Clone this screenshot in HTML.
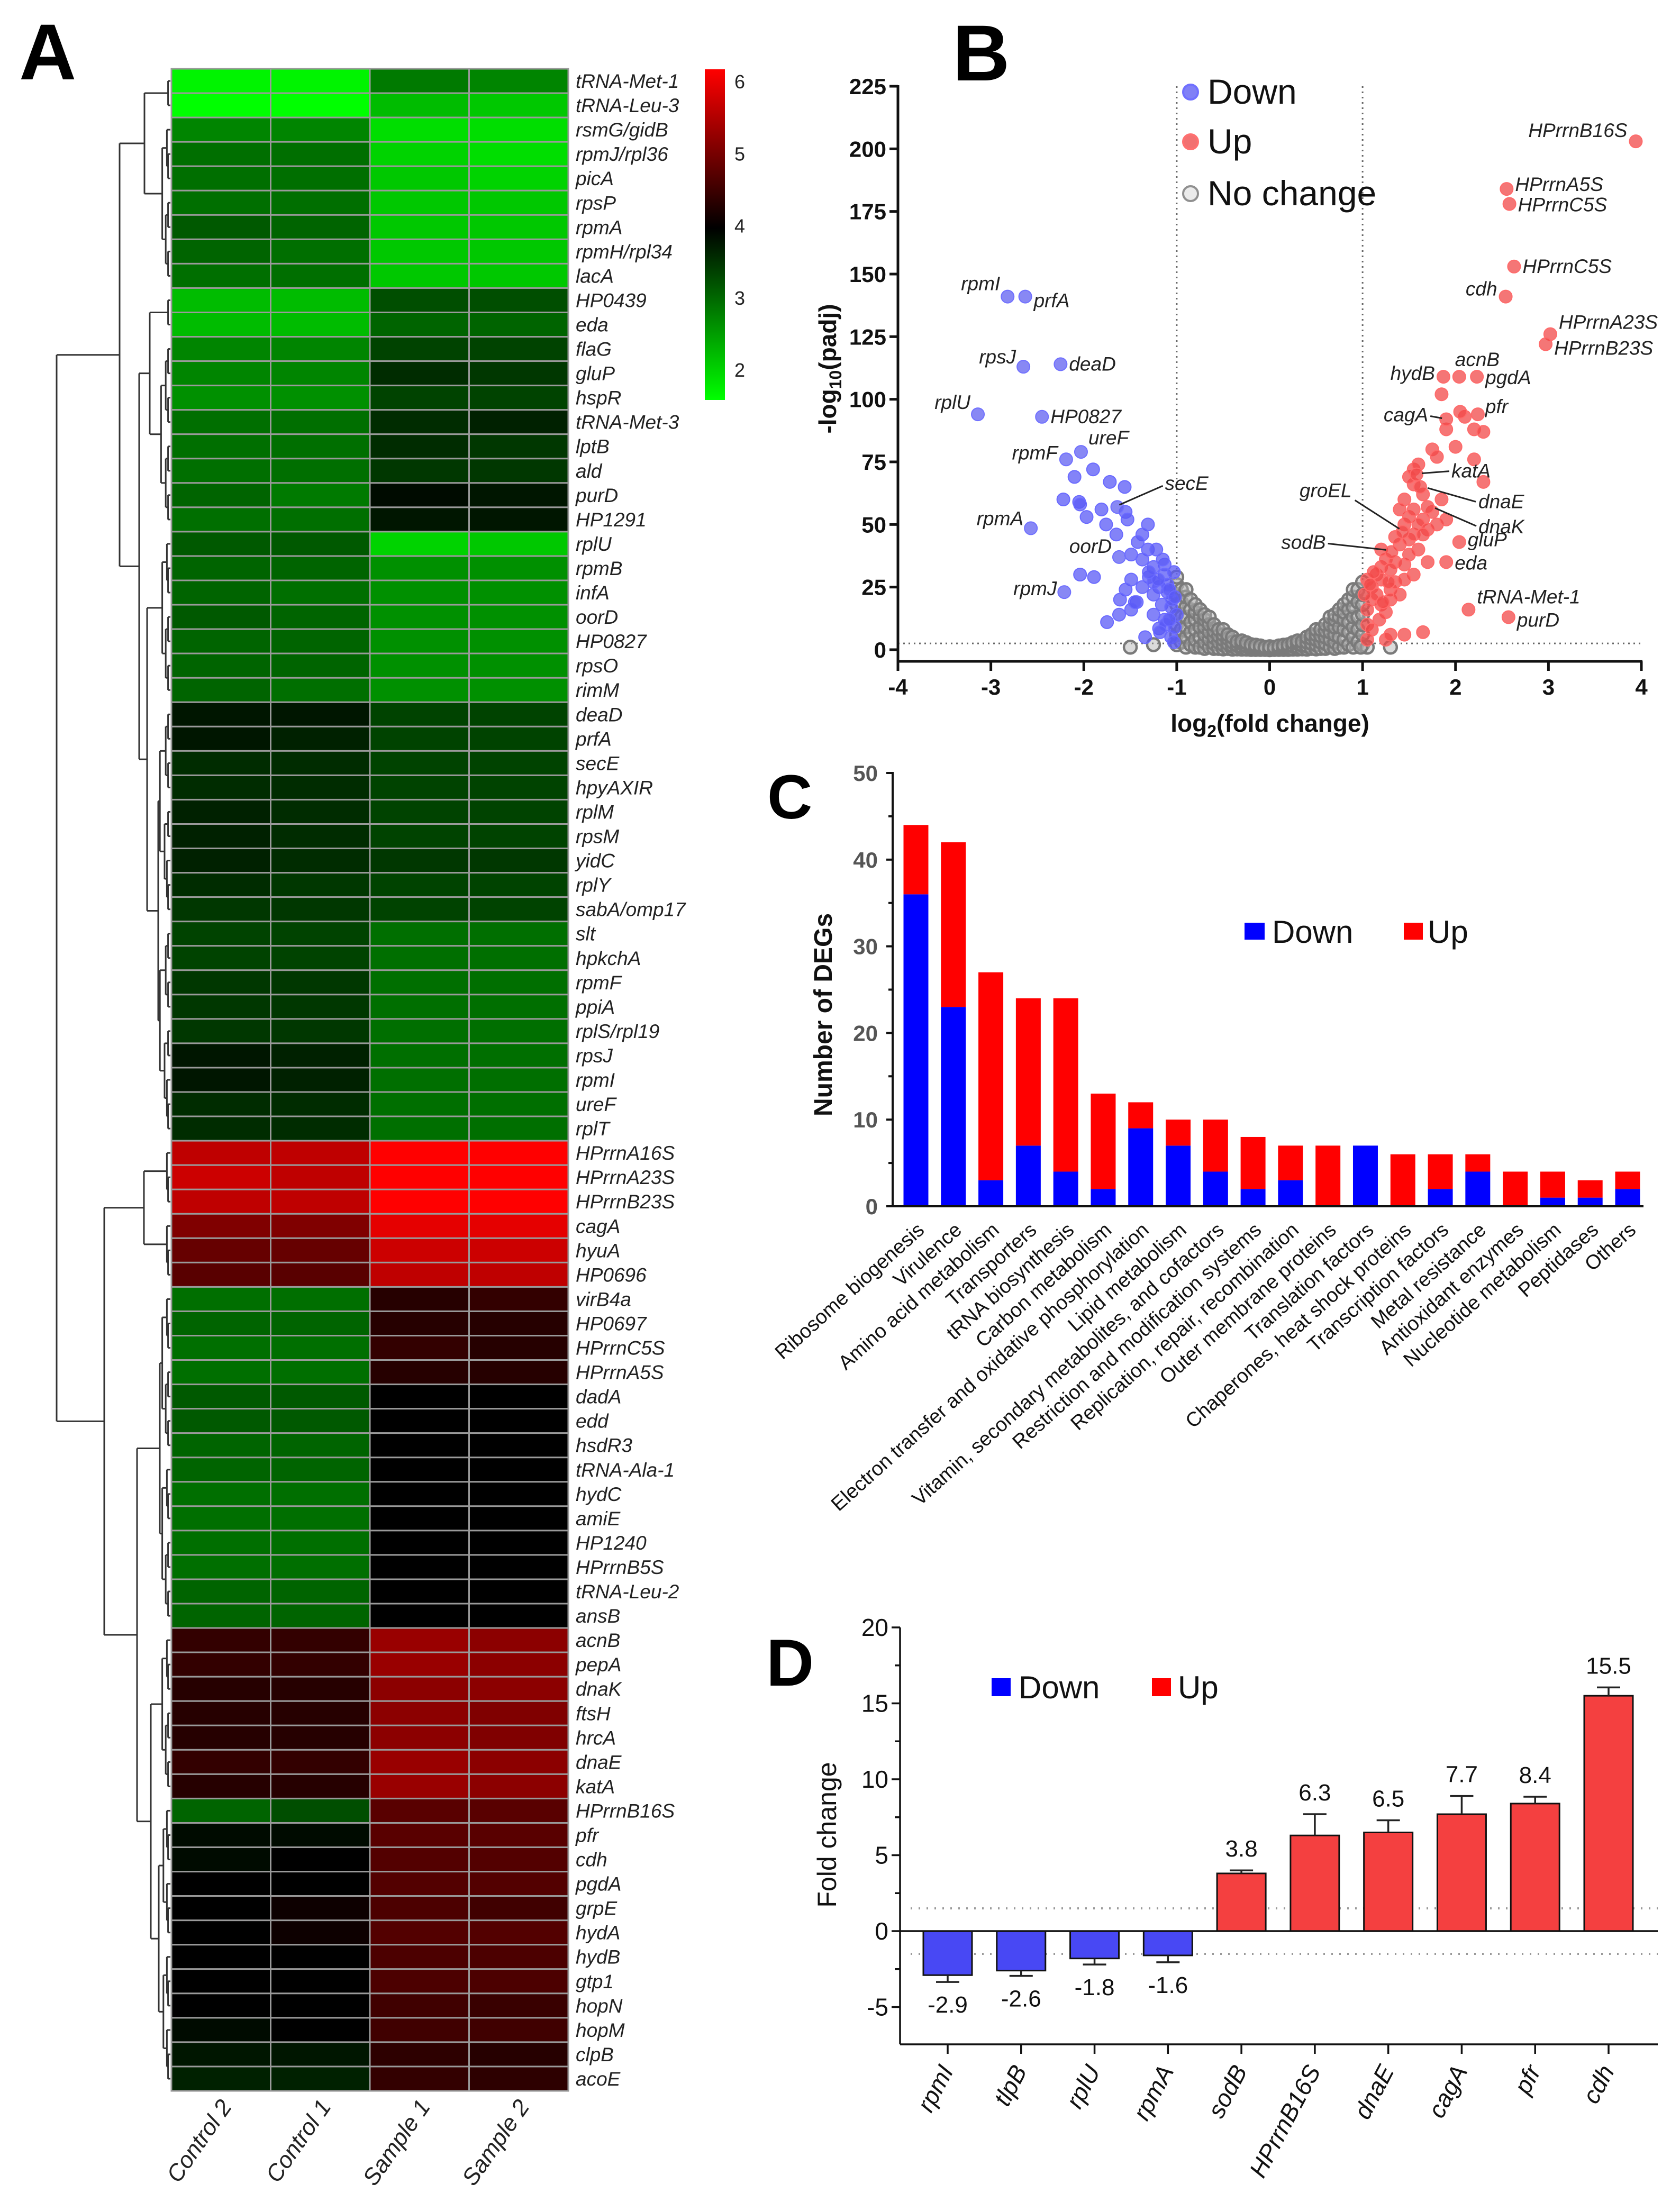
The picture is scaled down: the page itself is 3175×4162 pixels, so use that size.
<!DOCTYPE html>
<html><head><meta charset="utf-8"><title>DEG figure</title>
<style>
html,body{margin:0;padding:0;background:#fff;}
svg{display:block;font-family:"Liberation Sans",Arial,sans-serif;}
</style></head>
<body>
<svg id="fig" width="3175" height="4162" viewBox="0 0 3175 4162" xmlns="http://www.w3.org/2000/svg">
<defs>
<linearGradient id="cbar" x1="0" y1="0" x2="0" y2="1">
<stop offset="0" stop-color="#ff0000"/>
<stop offset="0.48" stop-color="#000000"/>
<stop offset="1" stop-color="#00ff00"/>
</linearGradient>
</defs>
<g id="panelA"></g>
<g id="panelB"></g>
<g id="panelC"></g>
<g id="panelD"></g>
</svg>
<script>
const NS='http://www.w3.org/2000/svg';
function mk(tag,attrs,parent,txt){const e=document.createElementNS(NS,tag);for(const k in attrs)e.setAttribute(k,attrs[k]);if(txt!==undefined)e.textContent=txt;parent.appendChild(e);return e;}

/* ===== Panel A data ===== */
const heatGenes=["tRNA-Met-1","tRNA-Leu-3","rsmG/gidB","rpmJ/rpl36","picA","rpsP","rpmA","rpmH/rpl34","lacA","HP0439","eda","flaG","gluP","hspR","tRNA-Met-3","lptB","ald","purD","HP1291","rplU","rpmB","infA","oorD","HP0827","rpsO","rimM","deaD","prfA","secE","hpyAXIR","rplM","rpsM","yidC","rplY","sabA/omp17","slt","hpkchA","rpmF","ppiA","rplS/rpl19","rpsJ","rpmI","ureF","rplT","HPrrnA16S","HPrrnA23S","HPrrnB23S","cagA","hyuA","HP0696","virB4a","HP0697","HPrrnC5S","HPrrnA5S","dadA","edd","hsdR3","tRNA-Ala-1","hydC","amiE","HP1240","HPrrnB5S","tRNA-Leu-2","ansB","acnB","pepA","dnaK","ftsH","hrcA","dnaE","katA","HPrrnB16S","pfr","cdh","pgdA","grpE","hydA","hydB","gtp1","hopN","hopM","clpB","acoE"];
const heatSamples=["Control 2","Control 1","Sample 1","Sample 2"];
const heatControl2=[1.8,1.7,2.8,3.0,3.0,3.0,3.2,3.1,3.0,2.3,2.3,2.8,2.8,2.7,3.0,3.0,3.0,3.1,3.0,3.2,3.1,3.1,3.2,3.1,3.1,3.1,3.8,3.8,3.6,3.6,3.7,3.7,3.7,3.6,3.5,3.4,3.4,3.5,3.5,3.5,3.8,3.8,3.6,3.6,5.5,5.6,5.5,5.0,4.8,4.7,3.0,3.1,3.0,3.0,3.2,3.2,3.1,3.1,3.0,3.0,3.0,3.0,3.1,3.1,4.4,4.4,4.3,4.3,4.3,4.4,4.3,3.1,3.9,3.9,4.0,4.0,4.0,4.0,4.0,4.0,3.9,3.8,3.7];
const heatControl1=[1.8,1.6,2.8,3.0,3.0,3.0,3.1,3.0,3.0,2.3,2.3,2.8,2.8,2.7,3.0,3.0,3.0,2.9,3.0,3.2,3.1,3.0,3.1,3.1,3.1,3.0,3.8,3.7,3.6,3.6,3.6,3.6,3.6,3.5,3.5,3.4,3.4,3.5,3.5,3.5,3.7,3.7,3.6,3.6,5.5,5.5,5.5,5.0,4.8,4.7,3.0,3.1,3.0,3.0,3.2,3.2,3.1,3.1,3.0,3.0,3.0,3.0,3.1,3.1,4.4,4.4,4.3,4.3,4.3,4.4,4.3,3.3,3.9,4.0,4.0,4.1,4.1,4.0,4.0,4.0,4.0,3.8,3.7];
const heatSample1=[2.9,2.3,2.0,2.1,2.2,2.2,2.2,2.2,2.2,3.3,3.1,3.4,3.6,3.4,3.6,3.6,3.5,3.9,3.8,2.1,2.7,2.7,2.7,2.7,2.7,2.7,3.4,3.4,3.4,3.4,3.4,3.4,3.5,3.4,3.4,3.0,3.0,3.0,3.0,3.0,3.0,3.0,3.0,3.0,6.2,6.1,6.1,5.8,5.6,5.5,4.3,4.3,4.4,4.3,4.0,4.0,4.0,4.0,4.0,4.0,4.0,4.0,4.0,4.0,5.2,5.2,5.1,5.1,5.1,5.2,5.2,4.7,4.7,4.65,4.65,4.6,4.65,4.6,4.6,4.5,4.5,4.35,4.4];
const heatSample2=[2.8,2.2,2.0,2.0,2.1,2.2,2.2,2.2,2.2,3.3,3.1,3.4,3.5,3.4,3.7,3.5,3.5,3.8,3.8,2.2,2.7,2.7,2.7,2.7,2.7,2.7,3.4,3.4,3.4,3.4,3.4,3.4,3.5,3.4,3.4,3.0,3.0,3.0,3.0,3.0,3.0,3.0,3.0,3.0,6.2,6.1,6.1,5.8,5.6,5.5,4.4,4.3,4.3,4.3,4.0,4.0,4.0,4.0,4.0,4.0,4.0,4.0,4.0,4.0,5.1,5.1,5.1,5.0,5.0,5.1,5.1,4.7,4.7,4.65,4.65,4.5,4.65,4.6,4.6,4.45,4.5,4.3,4.35];
const colorbarTicks=[6,5,4,3,2];

/* ===== Panel B data ===== */
const volcXTicks=[-4,-3,-2,-1,0,1,2,3,4];
const volcYTicks=[0,25,50,75,100,125,150,175,200,225];
const downLabels=["rpmI","prfA","rpsJ","deaD","rplU","HP0827","rpmF","ureF","secE","rpmA","oorD","rpmJ"];
const downLabX=[-2.82,-2.63,-2.65,-2.25,-3.14,-2.45,-2.19,-2.03,-1.64,-2.57,-1.62,-2.21];
const downLabY=[141,141,113,114,94,93,76,79,57,48.5,37,23];
const upLabels=["HPrrnB16S","HPrrnA5S","HPrrnC5S","HPrrnC5S","cdh","HPrrnA23S","HPrrnB23S","acnB","hydB","pgdA","cagA","pfr","katA","dnaE","dnaK","groEL","sodB","gluP","eda","tRNA-Met-1","purD"];
const upLabX=[3.94,2.55,2.58,2.63,2.54,3.02,2.97,2.04,1.87,2.23,1.9,2.24,1.58,1.62,1.7,1.43,1.31,2.04,1.9,2.14,2.57];
const upLabY=[203,184,178,153,141,126,122,109,109,109,92,94,70,65,57,47,39,43,35,16,13];
const downX=[-1.9,-2.1,-1.72,-1.56,-2.22,-2.05,-2.04,-1.81,-1.55,-1.97,-1.76,-1.53,-1.31,-1.65,-1.37,-1.42,-1.31,-1.22,-1.49,-1.37,-1.13,-1.25,-2.04,-1.89,-1.30,-1.49,-1.13,-1.03,-1.19,-1.37,-1.55,-1.1,-1.25,-1.61,-1.43,-1.16,-1.06,-1.62,-1.25,-1.13,-1.75,-1.19,-1.34,-1.06,-1.03,-1.25,-1.1,-1.49,-1.0,-1.05,-1.15,-1.2,-1.08,-1.02,-1.12,-1.18,-1.3,-1.45,-1.02,-1.08];
const downY=[72,69,67,65,60,59,58,56,55,53,50,52,50,46,46,43,40,40,38,36,34,33,30,29,29,28,30,31,25,25,24,23,22,20,19,18,17,14,14,12,11,8.5,5,5,3,27,26,16,14,20,36,28,24,21,10,7,31,19,9,12];
const upX=[1.05,1.1,1.15,1.2,1.25,1.1,1.15,1.2,1.3,1.35,1.25,1.05,1.1,1.05,1.25,1.3,1.45,1.65,1.4,1.5,1.55,1.45,1.5,1.45,1.55,1.65,1.6,1.7,1.8,1.9,1.75,1.65,1.55,1.5,1.55,1.6,1.85,1.75,1.8,2.0,2.2,2.3,2.2,2.3,1.9,2.1,2.05,1.85,1.35,1.6,1.7,1.55,1.45,1.3,1.65,1.4,1.2,1.45,1.35,1.05,1.2,1.3,1.4,1.5,1.02,1.08,1.12,1.18,1.22,1.28];
const upY=[28,25,30,33,36,20,22,18,24,27,15,10,8,4,4,6,6,7,42,44,46,50,53,60,56,52,50,48,50,52,55,62,66,69,72,74,60,80,77,81,76,67,88,87,88,93,95,102,35,40,35,30,28,20,46,56,40,34,45,16,28,32,22,38,22,26,31,12,19,27];
const ncX=[-1.0,-1.0,-1.0,-1.0,-1.0,-1.0,-1.0,-1.0,-0.95,-0.95,-0.95,-0.95,-0.95,-0.9,-0.9,-0.9,-0.9,-0.9,-0.9,-0.9,-0.85,-0.85,-0.85,-0.85,-0.85,-0.8,-0.8,-0.8,-0.8,-0.8,-0.8,-0.75,-0.75,-0.75,-0.75,-0.75,-0.7,-0.7,-0.7,-0.7,-0.7,-0.7,-0.65,-0.65,-0.65,-0.65,-0.65,-0.6,-0.6,-0.6,-0.6,-0.6,-0.55,-0.55,-0.55,-0.55,-0.5,-0.5,-0.5,-0.5,-0.5,-0.45,-0.45,-0.45,-0.45,-0.4,-0.4,-0.4,-0.4,-0.35,-0.35,-0.35,-0.3,-0.3,-0.3,-0.3,-0.25,-0.25,-0.25,-0.2,-0.2,-0.2,-0.15,-0.15,-0.15,-0.1,-0.1,-0.1,-0.05,-0.05,0,0,0,0.05,0.05,0.1,0.1,0.1,0.15,0.15,0.15,0.2,0.2,0.2,0.25,0.25,0.25,0.3,0.3,0.3,0.3,0.35,0.35,0.35,0.4,0.4,0.4,0.4,0.45,0.45,0.45,0.45,0.5,0.5,0.5,0.5,0.5,0.55,0.55,0.55,0.55,0.6,0.6,0.6,0.6,0.6,0.65,0.65,0.65,0.65,0.65,0.7,0.7,0.7,0.7,0.7,0.7,0.75,0.75,0.75,0.75,0.75,0.8,0.8,0.8,0.8,0.8,0.8,0.85,0.85,0.85,0.85,0.85,0.9,0.9,0.9,0.9,0.9,0.9,0.9,0.95,0.95,0.95,0.95,0.95,1.0,1.0,1.0,1.0,1.0,1.0,1.0,-1.5,-1.25,1.3,1.05,0.98];
const ncY=[2,6,10,14,18,22,26,29,3,8,13,19,24,1,5,9,13,17,21,24,2,7,11,16,20,1,4,8,12,15,18,1,5,9,13,16,0.5,3,6,9,12,14,1,4,7,10,13,0.5,2.5,5,7.5,10,0.5,3,5.5,8,0.3,2,4,6,8,0.5,2.5,4.5,6,0.2,1.5,3,5,0.3,1.8,3.2,0.2,1.2,2.5,3.5,0.2,1.5,2.8,0.1,1,2,0.1,1,1.8,0.1,0.8,1.5,0.1,1,0,0.6,1.2,0.1,1,0.1,0.8,1.5,0.1,1,1.8,0.1,1,2,0.2,1.5,2.8,0.2,1.2,2.5,3.5,0.3,1.8,3.2,0.2,1.5,3,5,0.5,2.5,4.5,6,0.3,2,4,6,8,0.5,3,5.5,8,0.5,2.5,5,7.5,10,1,4,7,10,13,0.5,3,6,9,12,14,1,5,9,13,16,1,4,8,12,15,18,2,7,11,16,20,1,5,9,13,17,21,24,3,8,13,19,24,2,6,10,14,18,22,27,1,2,1,1,1];

/* ===== Panel C data ===== */
const catNames=["Ribosome biogenesis","Virulence","Amino acid metabolism","Transporters","tRNA biosynthesis","Carbon metabolism","Electron transfer and oxidative phosphorylation","Lipid metabolism","Vitamin, secondary metabolites, and cofactors","Restriction and modification systems","Replication, repair, recombination","Outer membrane proteins","Translation factors","Chaperones, heat shock proteins","Transcription factors","Metal resistance","Antioxidant enzymes","Nucleotide metabolism","Peptidases","Others"];
const catDown=[36,23,3,7,4,2,9,7,4,2,3,0,7,0,2,4,0,1,1,2];
const catUp=[8,19,24,17,20,11,3,3,6,6,4,7,0,6,4,2,4,3,2,2];
const catYTicks=[0,10,20,30,40,50];

/* ===== Panel D data ===== */
const fcGenes=["rpmI","tlpB","rplU","rpmA","sodB","HPrrnB16S","dnaE","cagA","pfr","cdh"];
const fcValues=[-2.9,-2.6,-1.8,-1.6,3.8,6.3,6.5,7.7,8.4,15.5];
const fcErrors=[0.45,0.35,0.4,0.45,0.2,1.4,0.8,1.2,0.45,0.55];
const fcLabels=["-2.9","-2.6","-1.8","-1.6","3.8","6.3","6.5","7.7","8.4","15.5"];
const fcYTicks=[-5,0,5,10,15,20];

/* ================= PANEL A ================= */
(function(){
const g=document.getElementById('panelA');
const L=324,R=1074,T=130,B=3952;
const rows=heatGenes.length, rh=(B-T)/rows, cw=(R-L)/4;
const cols=[heatControl2,heatControl1,heatSample1,heatSample2];
function col(v){let r=0,gg=0;if(v>=4){r=Math.min(255,Math.round((v-4)/2*255));}else{gg=Math.min(255,Math.round((4-v)/2.3*255));}return 'rgb('+r+','+gg+',0)';}
const lab=mk('text',{x:36,y:150,'font-size':150,'font-weight':'bold'},g,'A');

for(let c=0;c<4;c++){for(let i=0;i<rows;i++){
 const r=mk('rect',{x:L+c*cw,y:T+i*rh,width:cw,height:rh,fill:col(cols[c][i]),stroke:'#9a9a9a','stroke-width':3},g);
 
}}
for(let i=0;i<rows;i++){
 const t=mk('text',{x:R+14,y:T+i*rh+rh/2+13,'font-size':37,'font-style':'italic',fill:'#222'},g,heatGenes[i]);
 
}
for(let c=0;c<4;c++){
 const cx=L+c*cw+cw/2+22, cy=B+30;
 const t=mk('text',{x:cx,y:cy,'font-size':44,'font-style':'italic','text-anchor':'end',fill:'#222',transform:'rotate(-55 '+cx+' '+cy+')'},g,heatSamples[c]);
 
}
const cbTop=131,cbBot=756; const vy=v=>155+(6-v)*136.3;
const cb=mk('rect',{x:1332,y:cbTop,width:38,height:cbBot-cbTop,fill:'url(#cbar)'},g);

colorbarTicks.forEach(v=>{const t=mk('text',{x:1388,y:vy(v)+12,'font-size':36,fill:'#222'},g,String(v));
 });
const leafX=322;
function rng(lo,hi){ if(hi-lo===1) return {x:leafX,y:T+lo*rh+rh/2};
 const m=Math.floor((lo+hi)/2); return node(Math.max(300,leafX-2.2*(hi-lo)),[rng(lo,m),rng(m,hi)]); }
const dg=mk('g',{stroke:'#333','stroke-width':3,fill:'none'},g);

function node(h,ch){ ch.forEach(c=>mk('line',{x1:c.x,y1:c.y,x2:h,y2:c.y},dg));
 mk('line',{x1:h,y1:ch[0].y,x2:h,y2:ch[ch.length-1].y},dg);
 return {x:h,y:(ch[0].y+ch[ch.length-1].y)/2}; }
const top=node(226,[ node(273,[rng(0,2),rng(2,9)]), node(263,[ node(283,[rng(9,11),rng(11,19)]), node(278,[rng(19,26),node(299,[rng(26,35),rng(35,44)])]) ]) ]);
const bot=node(197,[ node(272,[rng(44,47),rng(47,50)]), node(259,[ node(302,[rng(50,57),rng(57,64)]), node(285,[rng(64,71),rng(71,83)]) ]) ]);
node(107,[top,bot]);
})();

/* ================= PANEL B ================= */
(function(){
const g=document.getElementById('panelB');
const X0=1697,X1=3102,Y0=1228,Ytop=163;
const xs=v=>X0+(v+4)*(X1-X0)/8, ys=v=>Y0-v*(Y0-Ytop)/225;
const lab=mk('text',{x:1800,y:152,'font-size':150,'font-weight':'bold'},g,'B');

const ref=mk('g',{stroke:'#666','stroke-width':3,'stroke-dasharray':'3 7'},g);

mk('line',{x1:xs(-1),y1:Ytop,x2:xs(-1),y2:Y0},ref);mk('line',{x1:xs(1),y1:Ytop,x2:xs(1),y2:Y0},ref);
mk('line',{x1:X0,y1:ys(2.5),x2:X1,y2:ys(2.5)},ref);
const pg=mk('g',{},g);
for(let i=0;i<ncX.length;i++){const c=mk('circle',{cx:xs(ncX[i]),cy:ys(ncY[i]),r:12,fill:'#b0b0b0','fill-opacity':0.45,stroke:'#7a7a7a','stroke-width':4.5},pg);
 }
for(let i=0;i<downX.length;i++){const c=mk('circle',{cx:xs(downX[i]),cy:ys(downY[i]),r:12,fill:'#5a5af5','fill-opacity':0.75,stroke:'#6a6aff','stroke-width':2},pg);
 }
for(let i=0;i<upX.length;i++){const c=mk('circle',{cx:xs(upX[i]),cy:ys(upY[i]),r:12,fill:'#f24848','fill-opacity':0.75,stroke:'#ff6a6a','stroke-width':2},pg);
 }
const dOffFix=[[-14,-12,'end'],[16,20,'start'],[-14,-6,'end'],[16,12,'start'],[-14,-10,'end'],[16,12,'start'],[-16,0,'end'],[14,-14,'start'],[90,-32,'start'],[-14,-6,'end'],[-14,-8,'end'],[-14,6,'end']];
for(let i=0;i<downLabels.length;i++){const c=mk('circle',{cx:xs(downLabX[i]),cy:ys(downLabY[i]),r:12,fill:'#6060f0','fill-opacity':0.75,stroke:'#7070ff','stroke-width':2},pg);
 
 const o=dOffFix[i];const t=mk('text',{x:xs(downLabX[i])+o[0],y:ys(downLabY[i])+o[1],'font-size':37,'font-style':'italic','text-anchor':o[2],fill:'#222'},g,downLabels[i]);
 
 if(downLabels[i]==='secE'){mk('line',{x1:xs(downLabX[i])+4,y1:ys(downLabY[i])-4,x2:xs(downLabX[i])+86,y2:ys(downLabY[i])-40,stroke:'#222','stroke-width':3},g);}
}
const uOff=[[-16,-8,'end'],[16,4,'start'],[16,14,'start'],[16,12,'start'],[-16,-2,'end'],[16,-10,'start'],[16,20,'start'],[-10,-18,'start'],[-16,6,'end'],[16,14,'start'],[-90,-4,'end'],[14,-2,'start'],[0,0,'start'],[0,0,'start'],[0,0,'start'],[0,0,'start'],[0,0,'start'],[16,8,'start'],[16,14,'start'],[16,-12,'start'],[16,18,'start']];
const leader={katA:[[10,-2],[62,-6]],dnaE:[[14,2],[105,28]],dnaK:[[14,2],[92,36]],groEL:[[-6,-6],[-90,-60]],sodB:[[-10,-4],[-120,-16]],cagA:[[-8,-2],[-30,-6]]};
const leaderText={katA:[66,6,'start'],dnaE:[110,40,'start'],dnaK:[96,50,'start'],groEL:[-96,-66,'end'],sodB:[-124,-6,'end'],cagA:[-34,4,'end']};
for(let i=0;i<upLabels.length;i++){const cx=xs(upLabX[i]),cy=ys(upLabY[i]);
 const c=mk('circle',{cx:cx,cy:cy,r:12,fill:'#f04848','fill-opacity':0.75,stroke:'#ff6a6a','stroke-width':2},pg);
 
 const nm=upLabels[i];let o=uOff[i];
 if(leader[nm]){const l=leader[nm];mk('line',{x1:cx+l[0][0],y1:cy+l[0][1],x2:cx+l[1][0],y2:cy+l[1][1],stroke:'#222','stroke-width':3},g);o=leaderText[nm];}
 if(nm==='acnB'){o=[-8,-20,'start'];}
 const t=mk('text',{x:cx+o[0],y:cy+o[1],'font-size':37,'font-style':'italic','text-anchor':o[2],fill:'#222'},g,nm);
 
}
const ax=mk('g',{stroke:'#111','stroke-width':5,fill:'none'},g);
mk('line',{x1:X0,y1:Ytop-2,x2:X0,y2:Y0+22},ax);mk('line',{x1:X0-2,y1:Y0+22,x2:X1+2,y2:Y0+22},ax);
volcYTicks.forEach(v=>{mk('line',{x1:X0-16,y1:ys(v),x2:X0,y2:ys(v)},ax);
 const t=mk('text',{x:X0-22,y:ys(v)+15,'font-size':42,'font-weight':'bold','text-anchor':'end',fill:'#111',stroke:'none'},g,String(v));
 });
volcXTicks.forEach(v=>{mk('line',{x1:xs(v),y1:Y0+22,x2:xs(v),y2:Y0+40},ax);
 const t=mk('text',{x:xs(v),y:Y0+85,'font-size':42,'font-weight':'bold','text-anchor':'middle',fill:'#111'},g,String(v));
 });
const yt=mk('text',{x:0,y:0,'font-size':46,'font-weight':'bold','text-anchor':'middle',fill:'#111',transform:'translate(1580 697) rotate(-90)'},g);

yt.innerHTML='-log<tspan font-size="32" dy="10">10</tspan><tspan dy="-10">(padj)</tspan>';
const xt=mk('text',{x:2400,y:1383,'font-size':46,'font-weight':'bold','text-anchor':'middle',fill:'#111'},g);

xt.innerHTML='log<tspan font-size="32" dy="10">2</tspan><tspan dy="-10">(fold change)</tspan>';
const lg=mk('g',{},g);
[['Down','#6a6af5','#7070ff',174],['Up','#f05858','#ff7070',268],['No change','#e8e8e8','#909090',366]].forEach(e=>{
 const c=mk('circle',{cx:2250,cy:e[3],r:14,fill:e[1],'fill-opacity':0.85,stroke:e[2],'stroke-width':4},lg);
 
 const t=mk('text',{x:2282,y:e[3]+22,'font-size':66,fill:'#111'},lg,e[0]);
 });
})();

/* ================= PANEL C ================= */
(function(){
const g=document.getElementById('panelC');
const X0=1687,X1=3106,Y0=2280,Ytop=1461;
const ys=v=>Y0-v*(Y0-Ytop)/50; const step=(3076-1731)/19; const xc=i=>1731+i*step; const bw=47;
const lab=mk('text',{x:1450,y:1547,'font-size':118,'font-weight':'bold'},g,'C');

for(let i=0;i<catNames.length;i++){
 if(catDown[i]>0){const r=mk('rect',{x:xc(i)-bw/2,y:ys(catDown[i]),width:bw,height:Y0-ys(catDown[i]),fill:'#0000ff'},g);
  }
 if(catUp[i]>0){const r=mk('rect',{x:xc(i)-bw/2,y:ys(catDown[i]+catUp[i]),width:bw,height:ys(catDown[i])-ys(catDown[i]+catUp[i]),fill:'#ff0000'},g);
  }
 const tx=xc(i)+18, ty=Y0+48;
 const t=mk('text',{x:tx,y:ty,'font-size':38,'text-anchor':'end',fill:'#111',transform:'rotate(-42 '+tx+' '+ty+')'},g,catNames[i]);
 
}
const ax=mk('g',{stroke:'#111','stroke-width':4},g);
mk('line',{x1:X0,y1:Ytop-2,x2:X0,y2:Y0},ax);mk('line',{x1:X0-2,y1:Y0,x2:X1,y2:Y0},ax);
for(let v=0;v<=50;v+=5){mk('line',{x1:X0-(v%10===0?12:8),y1:ys(v),x2:X0,y2:ys(v)},ax);}
catYTicks.forEach(v=>{const t=mk('text',{x:X0-28,y:ys(v)+15,'font-size':42,'font-weight':'bold','text-anchor':'end',fill:'#555'},g,String(v));
 });
const yt=mk('text',{x:0,y:0,'font-size':48,'font-weight':'bold','text-anchor':'middle',fill:'#111',transform:'translate(1572 1918) rotate(-90)'},g,'Number of DEGs');

const lg=mk('g',{},g);
mk('rect',{x:2352,y:1744,width:38,height:32,fill:'#0000ff'},lg);
mk('text',{x:2404,y:1782,'font-size':60,fill:'#111'},lg,'Down');
mk('rect',{x:2653,y:1744,width:36,height:32,fill:'#ff0000'},lg);
mk('text',{x:2698,y:1782,'font-size':60,fill:'#111'},lg,'Up');
})();

/* ================= PANEL D ================= */
(function(){
const g=document.getElementById('panelD');
const X0=1701,X1=3133,Y0=3650,unit=28.7,Ybot=3864,Ytop=3076;
const ys=v=>Y0-v*unit; const step=(3040-1791)/9; const xc=i=>1791+i*step; const bw=92;
const lab=mk('text',{x:1448,y:3186,'font-size':125,'font-weight':'bold'},g,'D');

const ref=mk('g',{stroke:'#999','stroke-width':4,'stroke-dasharray':'3 12'},g);

mk('line',{x1:X0+20,y1:ys(1.5),x2:X1,y2:ys(1.5)},ref);mk('line',{x1:X0+20,y1:ys(-1.5),x2:X1,y2:ys(-1.5)},ref);
for(let i=0;i<fcGenes.length;i++){
 const v=fcValues[i], e=fcErrors[i], up=v>0;
 const y1=Math.min(ys(v),Y0), h=Math.abs(ys(v)-Y0);
 const r=mk('rect',{x:xc(i)-bw/2,y:y1,width:bw,height:h,fill:up?'#f44040':'#4848f4',stroke:'#111','stroke-width':3},g);
 
 const ye=ys(v+(up?e:-e));
 const eb=mk('g',{stroke:'#222','stroke-width':3.5},g);
 mk('line',{x1:xc(i),y1:ys(v),x2:xc(i),y2:ye},eb);mk('line',{x1:xc(i)-22,y1:ye,x2:xc(i)+22,y2:ye},eb);
 const ty=up?ye-26:ye+58;
 const t=mk('text',{x:xc(i),y:ty,'font-size':44,'text-anchor':'middle',fill:'#111'},g,fcLabels[i]);
 
 const tx=xc(i)+12, tyy=Ybot+50;
 const gl=mk('text',{x:tx,y:tyy,'font-size':46,'font-style':'italic','text-anchor':'end',fill:'#111',transform:'rotate(-62 '+tx+' '+tyy+')'},g,fcGenes[i]);
 
}
const ax=mk('g',{stroke:'#111','stroke-width':3.5},g);
mk('line',{x1:X0,y1:Ytop,x2:X0,y2:Ybot},ax);mk('line',{x1:X0,y1:Ybot,x2:X1,y2:Ybot},ax);mk('line',{x1:X0,y1:Y0,x2:X1,y2:Y0},ax);
for(let v=-7.5;v<=20;v+=2.5){if(v<-7)continue;mk('line',{x1:X0-(v%5===0?16:10),y1:ys(v),x2:X0,y2:ys(v)},ax);}
for(let i=0;i<fcGenes.length;i++){mk('line',{x1:xc(i),y1:Ybot,x2:xc(i),y2:Ybot+18},ax);}
fcYTicks.forEach(v=>{const t=mk('text',{x:X0-22,y:ys(v)+16,'font-size':46,'text-anchor':'end',fill:'#111'},g,String(v));
 });
const yt=mk('text',{x:0,y:0,'font-size':50,'text-anchor':'middle',fill:'#111',transform:'translate(1580 3468) rotate(-90)'},g,'Fold change');

const lg=mk('g',{},g);
mk('rect',{x:1874,y:3172,width:36,height:34,fill:'#0000ff'},lg);
mk('text',{x:1925,y:3210,'font-size':60,fill:'#111'},lg,'Down');
mk('rect',{x:2177,y:3172,width:36,height:34,fill:'#ff0000'},lg);
mk('text',{x:2226,y:3210,'font-size':60,fill:'#111'},lg,'Up');
})();
</script>
</body></html>
